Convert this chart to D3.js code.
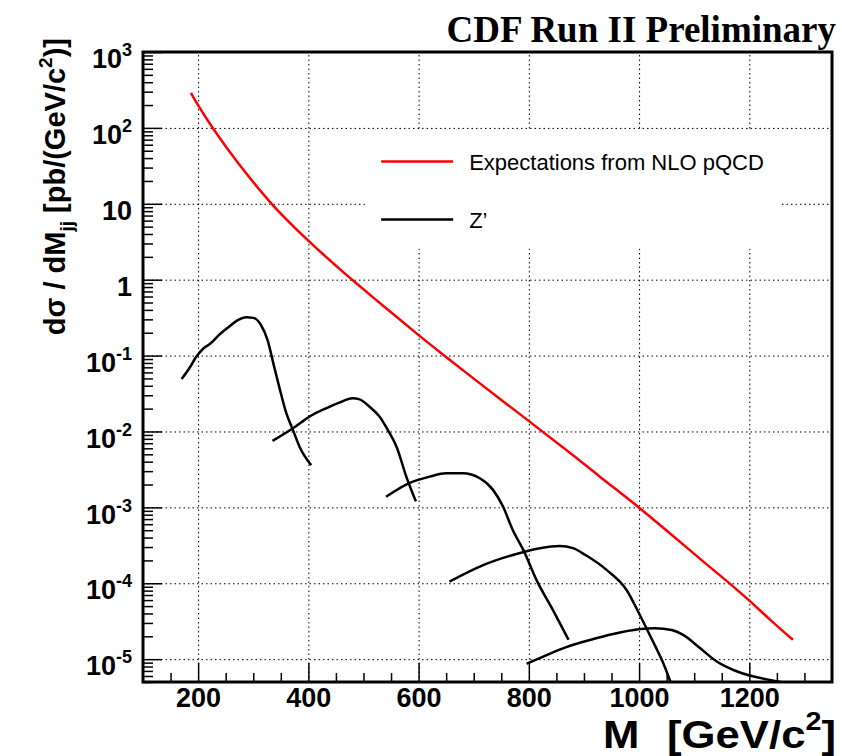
<!DOCTYPE html>
<html>
<head>
<meta charset="utf-8">
<script src="https://cdn.jsdelivr.net/npm/d3@7"></script>
<style>
  body { margin: 0; background: #fff; }
  svg text { font-family: "Liberation Sans", Arial, Helvetica, sans-serif; }
  .axis text { font-weight: bold; font-size: 27px; fill: #000; }
  .axis line { stroke: #000; stroke-width: 1.5; }
  .grid line { stroke: #000; stroke-width: 1; stroke-dasharray: 1.5, 3; }
</style>
</head>
<body>
<div id="chart"></div>
<script>
// tick labels
const xTickValues = [200, 400, 600, 800, 1000, 1200];
const yTickValues = [1e-5, 1e-4, 1e-3, 1e-2, 1e-1, 1, 10, 100, 1000];
const yTickBase = ["10", "10", "10", "10", "10", "1", "10", "10", "10"];
const yTickExp = ["-5", "-4", "-3", "-2", "-1", "", "", "2", "3"];

// NLO pQCD expectation, [mass, dsigma/dM]
const nloCurve = [
  [187, 290], [199, 204], [229, 94], [275, 32.7], [335, 9.7], [396, 3.47],
  [456, 1.40], [480, 0.99], [540, 0.427], [599, 0.189], [644, 0.1035],
  [700, 0.0497], [799, 0.0139], [875, 0.0052], [930, 0.0025],
  [1000, 9.9e-4], [1060, 4.3e-4], [1114, 2.0e-4], [1172, 8.9e-5],
  [1200, 5.9e-5], [1240, 3.2e-5], [1279, 1.8e-5]
];

// Z' signal shapes
const zprime300 = [
  [170, 0.049], [184, 0.068], [196, 0.095], [210, 0.125], [223, 0.145],
  [238, 0.187], [256, 0.24], [272, 0.294], [287, 0.319], [300, 0.314],
  [314, 0.253], [326, 0.16], [338, 0.071], [347, 0.039], [360, 0.0174],
  [372, 0.0105], [384, 0.0063], [405, 0.0036]
];
const zprime500 = [
  [335, 0.0075], [372, 0.011], [402, 0.0157], [432, 0.0202], [456, 0.024],
  [480, 0.0274], [493, 0.0265], [511, 0.0212], [529, 0.0157], [544, 0.0105],
  [560, 0.0063], [578, 0.0025], [595, 0.0012]
];
const zprime700 = [
  [541, 0.00138], [584, 0.0021], [620, 0.00254], [650, 0.00281],
  [680, 0.00281], [711, 0.00242], [735, 0.0017], [753, 0.00103],
  [771, 0.0005], [790, 0.000275], [814, 0.00011], [844, 4.4e-5], [872, 1.8e-5]
];
const zprime900 = [
  [656, 1.05e-4], [711, 1.66e-4], [771, 2.36e-4], [820, 2.9e-4], [856, 3.1e-4],
  [880, 2.9e-4], [905, 2.3e-4], [941, 1.5e-4], [977, 8.2e-5], [1000, 4e-5],
  [1014, 2.5e-5], [1030, 1.45e-5], [1042, 9.5e-6], [1058, 4.8e-6]
];
const zprime1100 = [
  [796, 8.7e-6], [826, 1.08e-5], [868, 1.44e-5], [911, 1.79e-5], [953, 2.15e-5],
  [999, 2.48e-5], [1029, 2.55e-5], [1059, 2.42e-5], [1080, 2.09e-5],
  [1111, 1.39e-5], [1141, 9.3e-6], [1171, 7.2e-6], [1208, 5.9e-6],
  [1244, 5.2e-6], [1262, 4.9e-6], [1280, 4.7e-6]
];

const legendLabels = ["Expectations from NLO pQCD", "Z\u2019"];
const legendColors = ["#ff0000", "#000000"];

const W = 842, H = 756;
const margin = { top: 52, right: 10, bottom: 74, left: 143 };
const width = W - margin.left - margin.right;
const height = H - margin.top - margin.bottom;

const svg = d3.select("#chart").append("svg")
  .attr("width", W)
  .attr("height", H);

const g = svg.append("g")
  .attr("transform", `translate(${margin.left}, ${margin.top})`);

const x = d3.scaleLinear().domain([100, 1350]).range([0, width]);
const y = d3.scaleLog().domain([5e-6, 1000]).range([height, 0]);

// dotted grid
g.append("g")
  .attr("class", "grid")
  .attr("transform", `translate(0, ${height})`)
  .call(d3.axisBottom(x).tickValues(xTickValues).tickSize(-height).tickFormat(""))
  .call(s => s.select(".domain").remove());
g.append("g")
  .attr("class", "grid")
  .call(d3.axisLeft(y).tickValues(yTickValues).tickSize(-width).tickFormat(""))
  .call(s => s.select(".domain").remove());

// minor ticks (inside the frame, ROOT style)
const xMinor = d3.range(150, 1350, 50).filter(v => v % 200 !== 0);
g.append("g")
  .attr("class", "axis")
  .attr("transform", `translate(0, ${height})`)
  .call(d3.axisBottom(x).tickValues(xMinor).tickSize(-9).tickFormat(""))
  .call(s => s.select(".domain").remove());

const yMinor = y.ticks().filter(v => {
  const l = Math.log10(v);
  return Math.abs(l - Math.round(l)) > 1e-6;
});
g.append("g")
  .attr("class", "axis")
  .call(d3.axisLeft(y).tickValues(yMinor).tickSize(-10).tickFormat(""))
  .call(s => s.select(".domain").remove());

// major ticks + labels
g.append("g")
  .attr("class", "axis")
  .attr("transform", `translate(0, ${height})`)
  .call(d3.axisBottom(x).tickValues(xTickValues).tickSize(-19).tickPadding(6).tickFormat(d3.format("d")))
  .call(s => s.select(".domain").remove());

const yAxis = g.append("g")
  .attr("class", "axis")
  .call(d3.axisLeft(y).tickValues(yTickValues).tickSize(-19).tickPadding(11))
  .call(s => s.select(".domain").remove());

// replace the y labels with 10^n
yAxis.selectAll(".tick text").each(function(d) {
  const i = yTickValues.indexOf(d);
  const t = d3.select(this).text(null).attr("dy", "0.58em");
  t.append("tspan").text(yTickBase[i]);
  if (yTickExp[i]) {
    t.append("tspan")
      .attr("dy", -12)
      .attr("font-size", "18px")
      .text(yTickExp[i]);
  }
});

// curves
g.append("clipPath").attr("id", "plot-clip")
  .append("rect").attr("width", width).attr("height", height);

const line = d3.line()
  .x(d => x(d[0]))
  .y(d => y(d[1]))
  .curve(d3.curveMonotoneX);

const curves = g.append("g").attr("clip-path", "url(#plot-clip)");

[zprime300, zprime500, zprime700, zprime900, zprime1100].forEach(c => {
  curves.append("path")
    .datum(c)
    .attr("d", line)
    .attr("fill", "none")
    .attr("stroke", "#000")
    .attr("stroke-width", 2.5);
});

curves.append("path")
  .datum(nloCurve)
  .attr("d", line.curve(d3.curveCatmullRom.alpha(0.5)))
  .attr("fill", "none")
  .attr("stroke", "#ff0000")
  .attr("stroke-width", 2.5);

// legend (white box hides the grid)
const legend = g.append("g")
  .attr("transform", `translate(${x(503)}, ${y(95)})`);
legend.append("rect")
  .attr("width", 416)
  .attr("height", 119)
  .attr("fill", "#fff");
const items = legend.selectAll(".item")
  .data(legendLabels)
  .enter()
  .append("g")
  .attr("transform", (d, i) => `translate(0, ${32 + i * 58})`);
items.append("line")
  .attr("x1", 16).attr("x2", 88)
  .attr("stroke", (d, i) => legendColors[i])
  .attr("stroke-width", 2.5);
items.append("text")
  .attr("x", 104)
  .attr("dy", "0.36em")
  .style("font-size", "22px")
  .text(d => d);

// frame
g.append("rect")
  .attr("width", width)
  .attr("height", height)
  .attr("fill", "none")
  .attr("stroke", "#000")
  .attr("stroke-width", 3);

// titles
svg.append("text")
  .attr("x", 836)
  .attr("y", 42)
  .attr("text-anchor", "end")
  .style("font-family", "'Liberation Serif', 'Times New Roman', serif")
  .style("font-weight", "bold")
  .style("font-size", "37px")
  .text("CDF Run II Preliminary");

// x title is a bit wide in the original, stretch it horizontally
const xTitle = svg.append("text")
  .attr("transform", "translate(836, 747.5) scale(1.15, 1)")
  .attr("text-anchor", "end")
  .style("font-weight", "bold")
  .style("font-size", "38px");
xTitle.append("tspan").text("M");
xTitle.append("tspan").attr("dx", 24).text("[GeV/c");
xTitle.append("tspan").attr("dy", -18).style("font-size", "25px").text("2");
xTitle.append("tspan").attr("dy", 18).text("]");

const yTitle = svg.append("text")
  .attr("transform", "translate(65, 38) rotate(-90)")
  .attr("text-anchor", "end")
  .style("font-weight", "bold")
  .style("font-size", "29px");
yTitle.append("tspan").text("d\u03c3 / dM");
yTitle.append("tspan").attr("dy", 8).style("font-size", "19px").text("jj");
yTitle.append("tspan").attr("dy", -8).text(" [pb/(GeV/c");
yTitle.append("tspan").attr("dy", -13).style("font-size", "19px").text("2");
yTitle.append("tspan").attr("dy", 13).text(")]");
</script>
</body>
</html>
